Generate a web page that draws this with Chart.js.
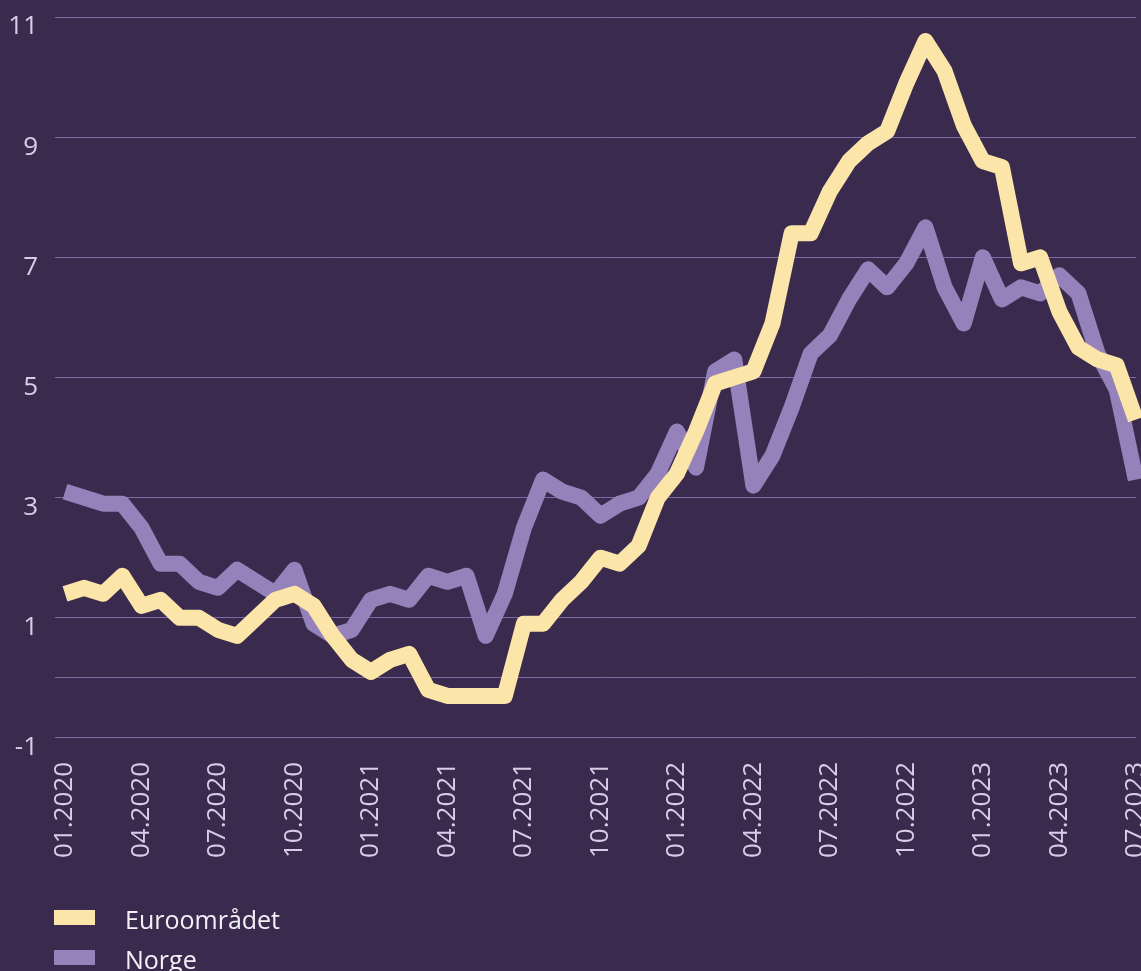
<!DOCTYPE html>
<html>
<head>
<meta charset="utf-8">
<script src="https://cdn.jsdelivr.net/npm/chart.js@4/dist/chart.umd.min.js"></script>
<style>
    body { margin: 0; background: #3a2b4e; overflow: hidden; font-family: 'Open Sans', sans-serif; }
    #wrap { position: relative; width: 1141px; height: 971px; overflow: hidden; }
    #tradeChart { position: absolute; left: 0; top: 0; }
    #legend { position: absolute; left: 54px; top: 899px; }
    .legend-item { display: flex; align-items: center; height: 40px; color: #f4f0f8; font-size: 25px; }
    .legend-box { width: 41px; height: 15px; margin-right: 30px; margin-top: -4px; }
</style>
</head>
<body>
<div id="wrap">
    <canvas id="tradeChart" width="1191" height="971"></canvas>
    <div id="legend"></div>
</div>
<script>
// Data (monthly, 57 points)
const seriesNames = ['Euroområdet', 'Norge'];
const euro = [1.4, 1.5, 1.4, 1.7, 1.2, 1.3, 1.0, 1.0, 0.8, 0.7, 1.0, 1.3,
    1.4, 1.2, 0.7, 0.3, 0.1, 0.3, 0.4, -0.2, -0.3, -0.3, -0.3, -0.3,
    0.9, 0.9, 1.3, 1.6, 2.0, 1.9, 2.2, 3.0, 3.4, 4.1, 4.9, 5.0,
    5.1, 5.9, 7.4, 7.4, 8.1, 8.6, 8.9, 9.1, 9.9, 10.6, 10.1, 9.2,
    8.6, 8.5, 6.9, 7.0, 6.1, 5.5, 5.3, 5.2, 4.3];
const norge = [3.1, 3.0, 2.9, 2.9, 2.5, 1.9, 1.9, 1.6, 1.5, 1.8, 1.6, 1.4,
    1.8, 0.9, 0.7, 0.8, 1.3, 1.4, 1.3, 1.7, 1.6, 1.7, 0.7, 1.4,
    2.5, 3.3, 3.1, 3.0, 2.7, 2.9, 3.0, 3.4, 4.1, 3.5, 5.1, 5.3,
    3.2, 3.7, 4.5, 5.4, 5.7, 6.3, 6.8, 6.5, 6.9, 7.5, 6.5, 5.9,
    7.0, 6.3, 6.5, 6.4, 6.7, 6.4, 5.4, 4.8, 3.3];
const tickLabels = ['01.2020', '04.2020', '07.2020', '10.2020', '01.2021', '04.2021', '07.2021',
    '10.2021', '01.2022', '04.2022', '07.2022', '10.2022', '01.2023', '04.2023', '07.2023'];
const yTicks = [-1, 0, 1, 3, 5, 7, 9, 11];

// Label every 4th point
const categories = euro.map((_, i) => i % 4 === 0 ? tickLabels[i / 4] : '');

const colors = ['#fbe5a8', '#9682bb'];
const tickColor = '#d7cde6';
const gridColor = '#7d6aa6';
const font = { family: "'Open Sans', sans-serif", size: 26 };

const ctx = document.getElementById('tradeChart').getContext('2d');
new Chart(ctx, {
    type: 'line',
    data: {
        labels: categories,
        datasets: [
            { label: seriesNames[0], data: euro, borderColor: colors[0], backgroundColor: colors[0] },
            { label: seriesNames[1], data: norge, borderColor: colors[1], backgroundColor: colors[1] }
        ]
    },
    options: {
        responsive: false,
        animation: false,
        layout: { padding: { top: 17, right: 0, bottom: 89, left: 0 } },
        plugins: { legend: { display: false }, tooltip: { enabled: false } },
        elements: {
            point: { radius: 0 },
            line: { borderWidth: 16, tension: 0, borderJoinStyle: 'round', borderCapStyle: 'butt' }
        },
        scales: {
            x: {
                grid: { display: false, drawTicks: false },
                border: { display: false },
                ticks: {
                    autoSkip: false,
                    minRotation: 90,
                    maxRotation: 90,
                    padding: 24,
                    color: tickColor,
                    font: font,
                    callback: (v, i) => categories[i] || null
                }
            },
            y: {
                min: -1,
                max: 11,
                afterBuildTicks: (s) => { s.ticks = yTicks.map(v => ({ value: v })); },
                afterFit: (s) => { s.width = 65; s.paddingTop = 0; },
                grid: { color: gridColor, lineWidth: 1, drawTicks: true, tickLength: 10 },
                border: { display: false },
                ticks: {
                    padding: 17,
                    labelOffset: 10,
                    color: tickColor,
                    font: font,
                    callback: (v) => v === 0 ? '' : v
                }
            }
        }
    }
});

// Legend
const legend = document.getElementById('legend');
seriesNames.forEach((name, i) => {
    const item = document.createElement('div');
    item.className = 'legend-item';
    const box = document.createElement('span');
    box.className = 'legend-box';
    box.style.background = colors[i];
    const text = document.createElement('span');
    text.textContent = name;
    item.appendChild(box);
    item.appendChild(text);
    legend.appendChild(item);
});
</script>
</body>
</html>
